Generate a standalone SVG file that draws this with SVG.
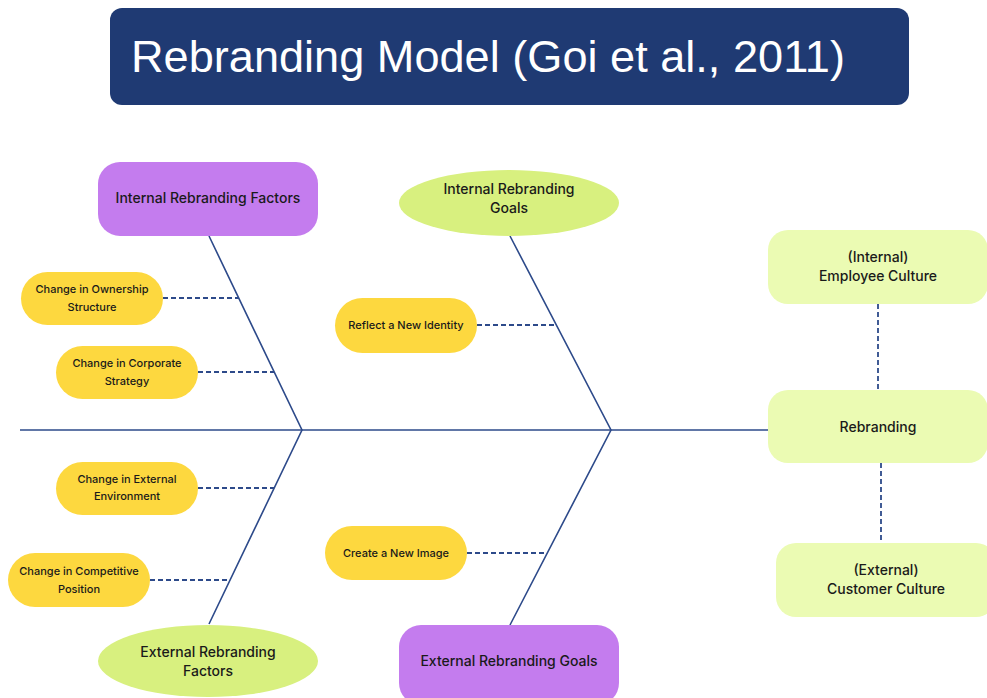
<svg xmlns="http://www.w3.org/2000/svg" width="987" height="698" viewBox="0 0 987 698">
<style>
.bone{stroke:#2d4a8a;stroke-width:1.6;fill:none}
.dash{stroke:#2d4a8a;stroke-width:1.8;stroke-dasharray:5 3;fill:none}
.purple{fill:#c47cee}
.yellow{fill:#fdd83f}
.lgreen{fill:#ebfbb3}
.green{fill:#d8f07f}
text{font-family:Inter,"Liberation Sans",sans-serif;fill:#1a1a1a;text-anchor:middle}
.big{font-size:14px;font-weight:500}
.small{font-size:11px;font-weight:500}
.title{font-family:"Liberation Sans",Arial,sans-serif;font-size:44px;fill:#ffffff;text-anchor:start}
</style>
<rect width="987" height="698" fill="#ffffff"/>
<g id="title">
<rect x="110" y="8" width="799" height="97" rx="12" fill="#1f3a73"/>
<text class="title" x="131" y="72" textLength="714" lengthAdjust="spacingAndGlyphs">Rebranding Model (Goi et al., 2011)</text>
</g>
<g id="connectors">
<line class="bone" x1="20" y1="430" x2="768" y2="430"/>
<polyline class="bone" points="209,236 302,430 209,624"/>
<polyline class="bone" points="510,236 611,430 510,625"/>
<line class="dash" x1="163" y1="298" x2="239" y2="298"/>
<line class="dash" x1="198" y1="372" x2="274" y2="372"/>
<line class="dash" x1="198" y1="488" x2="274" y2="488"/>
<line class="dash" x1="150" y1="580" x2="230" y2="580"/>
<line class="dash" x1="477" y1="325" x2="556" y2="325"/>
<line class="dash" x1="467" y1="553" x2="547" y2="553"/>
<line class="dash" x1="878" y1="304" x2="878" y2="390"/>
<line class="dash" x1="881" y1="463" x2="881" y2="546"/>
</g>
<g id="internal-factors">
<rect class="purple" x="98" y="162" width="220" height="74" rx="22"/>
<text class="big" x="208" y="203">Internal Rebranding Factors</text>
</g>
<g id="internal-goals">
<ellipse class="green" cx="509" cy="203" rx="110" ry="33"/>
<text class="big" x="509" y="194">Internal Rebranding</text>
<text class="big" x="509" y="213">Goals</text>
</g>
<g id="ownership">
<rect class="yellow" x="21" y="272" width="142" height="53" rx="26.5"/>
<text class="small" x="92" y="293">Change in Ownership</text>
<text class="small" x="92" y="311">Structure</text>
</g>
<g id="strategy">
<rect class="yellow" x="56" y="346" width="142" height="53" rx="26.5"/>
<text class="small" x="127" y="367">Change in Corporate</text>
<text class="small" x="127" y="385">Strategy</text>
</g>
<g id="environment">
<rect class="yellow" x="56" y="462" width="142" height="53" rx="26.5"/>
<text class="small" x="127" y="483">Change in External</text>
<text class="small" x="127" y="500">Environment</text>
</g>
<g id="competitive">
<rect class="yellow" x="8" y="553" width="142" height="54" rx="27"/>
<text class="small" x="79" y="575">Change in Competitive</text>
<text class="small" x="79" y="593">Position</text>
</g>
<g id="external-factors">
<ellipse class="green" cx="208" cy="661" rx="110" ry="36"/>
<text class="big" x="208" y="657">External Rebranding</text>
<text class="big" x="208" y="676">Factors</text>
</g>
<g id="identity">
<rect class="yellow" x="335" y="298" width="142" height="55" rx="27.5"/>
<text class="small" x="406" y="329">Reflect a New Identity</text>
</g>
<g id="image">
<rect class="yellow" x="325" y="526" width="142" height="54" rx="27"/>
<text class="small" x="396" y="557">Create a New Image</text>
</g>
<g id="external-goals">
<rect class="purple" x="399" y="625" width="220" height="80" rx="22"/>
<text class="big" x="509" y="666">External Rebranding Goals</text>
</g>
<g id="employee-culture">
<rect class="lgreen" x="768" y="230" width="220" height="74" rx="20"/>
<text class="big" x="878" y="262">(Internal)</text>
<text class="big" x="878" y="281">Employee Culture</text>
</g>
<g id="rebranding">
<rect class="lgreen" x="768" y="390" width="220" height="73" rx="20"/>
<text class="big" x="878" y="432">Rebranding</text>
</g>
<g id="customer-culture">
<rect class="lgreen" x="776" y="543" width="220" height="74" rx="20"/>
<text class="big" x="886" y="575">(External)</text>
<text class="big" x="886" y="594">Customer Culture</text>
</g>
</svg>
